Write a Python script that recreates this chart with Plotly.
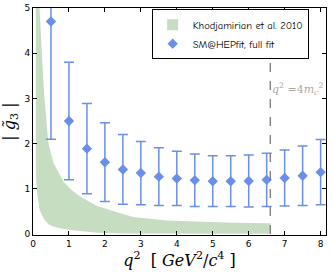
import plotly.graph_objects as go

# SM@HEPfit points
q2 = [0.5, 1.0, 1.5, 2.0, 2.5, 3.0, 3.5, 4.0, 4.5, 5.0, 5.5, 6.0, 6.5, 7.0, 7.5, 8.0]
g3 = [4.70, 2.50, 1.89, 1.59, 1.43, 1.35, 1.27, 1.23, 1.19, 1.17, 1.17, 1.175, 1.20, 1.24, 1.29, 1.37]
g3_err = [2.60, 1.30, 1.00, 0.87, 0.77, 0.70, 0.64, 0.60, 0.58, 0.56, 0.56, 0.575, 0.59, 0.62, 0.66, 0.72]

# Khodjamirian et al. 2010 band
band_q2 = [0.08, 0.1, 0.18, 0.23, 0.31, 0.43, 0.57, 0.85, 1.04, 1.31, 1.78, 2.43, 2.79, 3.72, 4.64, 5.57, 6.6]
band_hi = [7.0, 6.2, 5.0, 4.35, 3.08, 2.0, 1.57, 1.16, 1.0, 0.83, 0.62, 0.46, 0.38, 0.30, 0.27, 0.25, 0.24]
band_lo = [1.35, 1.0, 0.55, 0.45, 0.33, 0.22, 0.16, 0.11, 0.09, 0.06, 0.03, 0.015, 0.012, 0.01, 0.01, 0.01, 0.01]

q2_threshold = 6.6
blue = "#6a8fe8"
green = "rgb(198,221,194)"

fig = go.Figure()
fig.add_trace(go.Scatter(
    x=band_q2 + band_q2[::-1],
    y=band_hi + band_lo[::-1],
    fill="toself", fillcolor=green,
    line=dict(width=0, color=green),
    mode="lines", name="Khodjamirian et al. 2010", hoverinfo="skip",
    showlegend=False, legendgroup="band",
))
# legend patch for the band
fig.add_trace(go.Scatter(
    x=[None], y=[None], mode="markers", name="Khodjamirian et al. 2010",
    marker=dict(symbol="square", size=11, color=green), legendgroup="band",
))
fig.add_trace(go.Scatter(
    x=q2, y=g3, mode="markers", name="SM@HEPfit, full fit",
    marker=dict(symbol="diamond", size=8, color=blue),
    error_y=dict(type="data", array=g3_err, visible=True, color=blue,
                 thickness=1.5, width=5),
))

fig.add_shape(type="line", x0=q2_threshold, x1=q2_threshold, y0=0, y1=5,
              xref="x", yref="y", line=dict(color="#777777", width=1.3, dash="dash"))
fig.add_annotation(x=q2_threshold, y=3.2, xref="x", yref="y", xanchor="left",
                   text="<i>q</i><sup>2</sup> =4<i>m</i><sub><i>c</i></sub><sup>2</sup>",
                   showarrow=False,
                   font=dict(family="DejaVu Serif", size=11, color="#aaaaaa"))

axis_common = dict(showline=True, linecolor="black", linewidth=1, mirror="allticks",
                   ticks="inside", ticklen=4, tickcolor="black", showgrid=False,
                   zeroline=False, tickfont=dict(family="DejaVu Sans", size=9, color="black"))

fig.update_xaxes(range=[0, 8.15], tickvals=[0, 1, 2, 3, 4, 5, 6, 7, 8],
                 title=dict(text="<i>q</i><sup>2</sup>  [ <i>GeV</i><sup>2</sup>/<i>c</i><sup>4</sup> ]",
                            font=dict(family="DejaVu Serif", size=16, color="black"),
                            standoff=3),
                 **axis_common)
fig.update_yaxes(range=[-0.02, 5], tickvals=[0, 1, 2, 3, 4, 5],
                 title=dict(text="| <i>g̃</i><sub>3</sub> |",
                            font=dict(family="DejaVu Serif", size=16, color="black"),
                            standoff=6),
                 **axis_common)

fig.update_layout(
    width=332, height=275,
    margin=dict(l=33, r=6, t=8, b=40, autoexpand=False),
    plot_bgcolor="white", paper_bgcolor="white",
    showlegend=True,
    legend=dict(x=0.405, y=0.995, xanchor="left", yanchor="top",
                bordercolor="black", borderwidth=1, bgcolor="white",
                font=dict(family="Comic Sans MS, Comic Neue, Lato", size=10.5, color="black"),
                tracegroupgap=0, itemwidth=30),
)

fig.write_html("out.html", config={"displayModeBar": False},
               post_script="document.body.style.margin='0';")
